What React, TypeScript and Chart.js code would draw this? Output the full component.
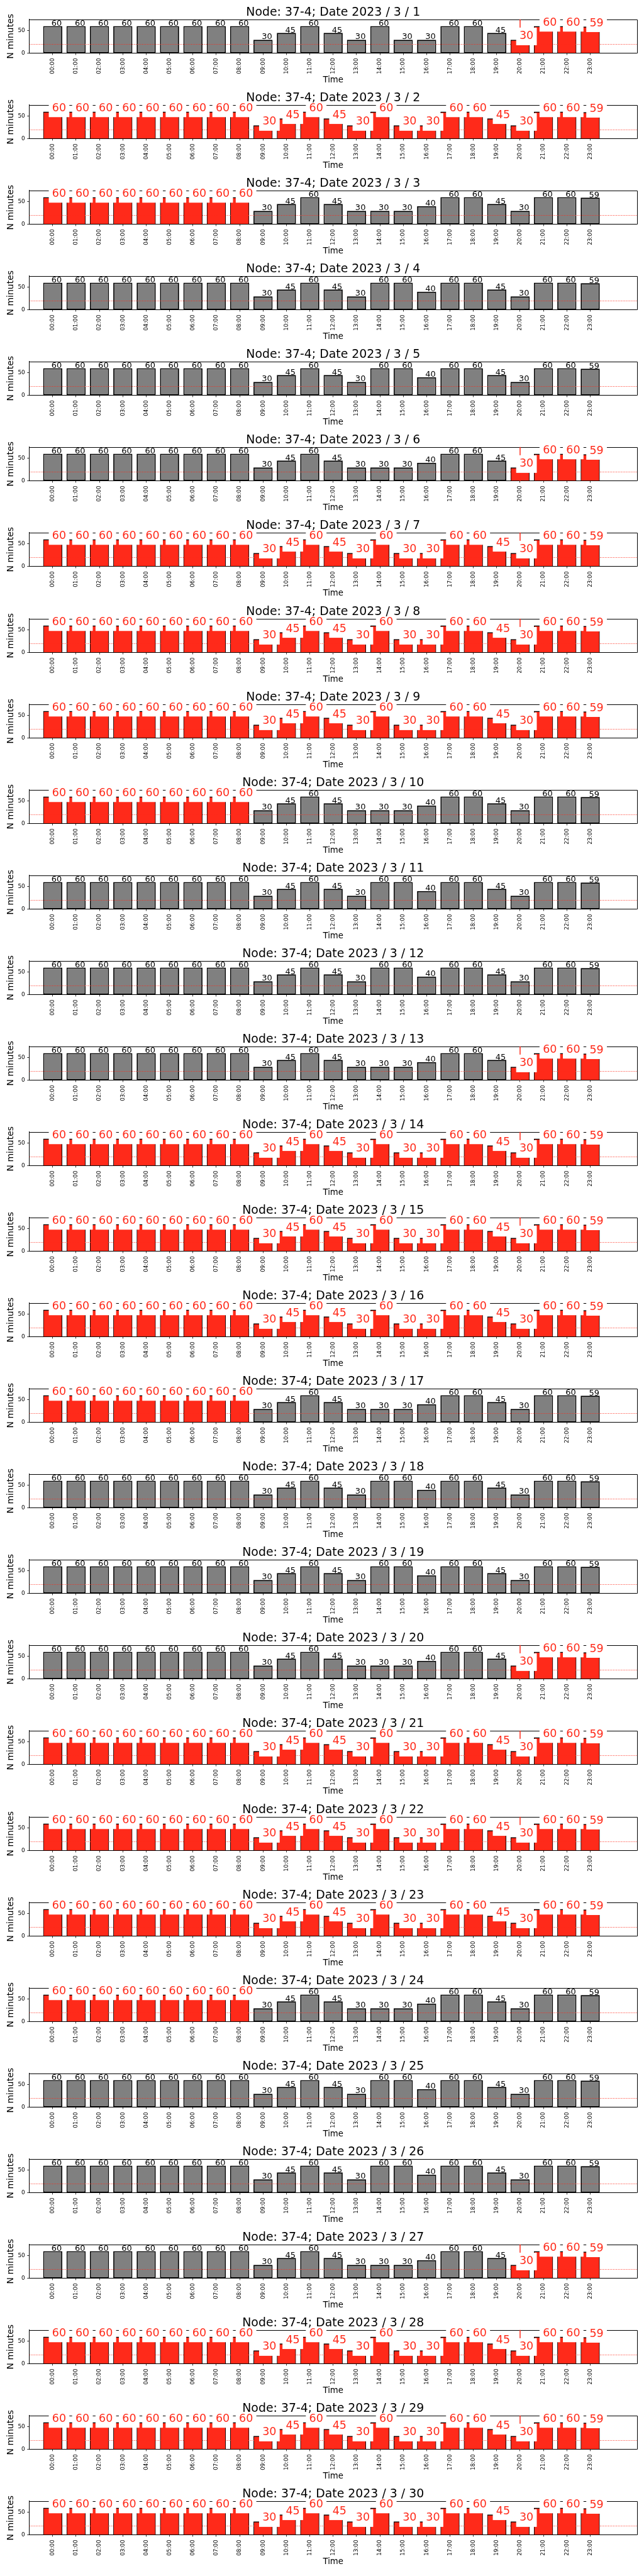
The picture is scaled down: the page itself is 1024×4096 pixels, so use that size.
import React, { useEffect, useRef } from 'react';
import { Chart, registerables } from 'chart.js';

Chart.register(...registerables);
Chart.defaults.font.family = '"DejaVu Sans", sans-serif';
Chart.defaults.color = '#000';

// ---------------- data ----------------
const NODE = '37-4';
const YEAR = 2023;
const MONTH = 3;
const DAYS = [1, 2, 3, 4, 5, 6, 7, 8, 9, 10, 11, 12, 13, 14, 15, 16, 17, 18, 19, 20, 21, 22, 23, 24, 25, 26, 27, 28, 29, 30];

const HOURS = [
  '00:00', '01:00', '02:00', '03:00', '04:00', '05:00', '06:00', '07:00',
  '08:00', '09:00', '10:00', '11:00', '12:00', '13:00', '14:00', '15:00',
  '16:00', '17:00', '18:00', '19:00', '20:00', '21:00', '22:00', '23:00',
];

// minutes per hour – three daily profiles that recur in the figure
const MINUTES_TUE_WED_THU = [60, 60, 60, 60, 60, 60, 60, 60, 60, 30, 45, 60, 45, 30, 60, 30, 30, 60, 60, 45, 30, 60, 60, 59];
const MINUTES_MON_FRI = [60, 60, 60, 60, 60, 60, 60, 60, 60, 30, 45, 60, 45, 30, 30, 30, 40, 60, 60, 45, 30, 60, 60, 59];
const MINUTES_WEEKEND = [60, 60, 60, 60, 60, 60, 60, 60, 60, 30, 45, 60, 45, 30, 60, 60, 40, 60, 60, 45, 30, 60, 60, 59];

// which profile each day (3/1 .. 3/30) shows
const DAY_PROFILE = [
  'A', 'A', 'B', 'C', 'C', 'B', 'A', 'A', 'A', 'B',
  'C', 'C', 'B', 'A', 'A', 'A', 'B', 'C', 'C', 'B',
  'A', 'A', 'A', 'B', 'C', 'C', 'B', 'A', 'A', 'A',
];

// highlighted (red) hour range per day, null = none
const RED_FROM = [20, 0, 0, null, null, 20, 0, 0, 0, 0, null, null, 20, 0, 0, 0, 0, null, null, 20, 0, 0, 0, 0, null, null, 20, 0, 0, 0];
const RED_TO = [23, 23, 8, null, null, 23, 23, 23, 23, 8, null, null, 23, 23, 23, 23, 8, null, null, 23, 23, 23, 23, 8, null, null, 23, 23, 23, 23];

// days that carry the red marker line at 20:00
const MARKER_DAYS = [1, 6, 7, 8, 13, 14, 15, 20, 21, 22, 27, 28, 29];
const MARKER_HOUR = 20;

const THRESHOLD = 20;
const Y_MAX = 75;
const Y_TICKS = [0, 50];

// ---------------- style ----------------
const GRAY = '#808080';
const RED = '#ff2a1a';
const S = 0.682;
const PERIOD = 199.52 * S;
const CANVAS_W = 1023;
const CANVAS_H = 136;
const AX_LEFT = 68.4 * S;
const AX_RIGHT = 1485 * S;
const AX_TOP = 45 * S;
const AX_BOTTOM = 124.3 * S;

const RED_FS = 17.5;
const BLACK_FS = 13;
const TITLE_FS = 18.9;

function profileFor(k: number): number[] {
  const p = DAY_PROFILE[k];
  if (p === 'A') return MINUTES_TUE_WED_THU;
  if (p === 'B') return MINUTES_MON_FRI;
  return MINUTES_WEEKEND;
}

function DayChart({ index }: { index: number }) {
  const ref = useRef<HTMLCanvasElement>(null);

  useEffect(() => {
    const day = DAYS[index];
    const values = profileFor(index);
    const from = RED_FROM[index];
    const to = RED_TO[index];
    const isRed = (i: number) => from !== null && to !== null && i >= from && i <= to;
    const hasMarker = MARKER_DAYS.includes(day);

    const baseData = values.map((v, i) => ({ x: i, y: v }));
    const redData = values.map((v, i) => ({ x: i, y: v })).filter((_, i) => isRed(i));

    const overlay = {
      id: 'overlay',
      beforeDatasetsDraw(chart: any) {
        const { ctx, chartArea } = chart;
        ctx.save();
        ctx.strokeStyle = '#000';
        ctx.lineWidth = 1;
        ctx.beginPath();
        const t = Math.round(chartArea.top) + 0.5;
        const r = Math.round(chartArea.right) + 0.5;
        ctx.moveTo(chartArea.left, t);
        ctx.lineTo(r, t);
        ctx.lineTo(r, chartArea.bottom);
        ctx.stroke();
        ctx.restore();
      },
      afterDatasetsDraw(chart: any) {
        const { ctx, chartArea } = chart;
        const xs = chart.scales.x;
        const ys = chart.scales.y;
        ctx.save();
        // threshold line
        const ty = Math.round(ys.getPixelForValue(THRESHOLD)) + 0.5;
        ctx.strokeStyle = RED;
        ctx.lineWidth = 1;
        ctx.setLineDash([1, 1.6]);
        ctx.beginPath();
        ctx.moveTo(chartArea.left, ty);
        ctx.lineTo(chartArea.right, ty);
        ctx.stroke();
        ctx.setLineDash([]);
        // marker line
        if (hasMarker) {
          const mx = xs.getPixelForValue(MARKER_HOUR);
          ctx.lineWidth = 1.5;
          ctx.beginPath();
          ctx.moveTo(mx, chartArea.top);
          ctx.lineTo(mx, chartArea.bottom);
          ctx.stroke();
        }
        // value labels
        values.forEach((v, i) => {
          const px = xs.getPixelForValue(i);
          const py = ys.getPixelForValue(v);
          const txt = String(v);
          ctx.textAlign = 'left';
          ctx.textBaseline = 'alphabetic';
          if (isRed(i)) {
            ctx.font = `${RED_FS}px "DejaVu Sans"`;
            const ax = px - 1;
            const base = py - 0.7;
            const w = ctx.measureText(txt).width;
            const pad = 0.3 * RED_FS;
            ctx.fillStyle = '#fff';
            ctx.fillRect(ax - pad, base - 0.76 * RED_FS - pad, w + 2 * pad, RED_FS + 2 * pad);
            ctx.fillStyle = RED;
            ctx.fillText(txt, ax, base);
          } else {
            ctx.font = `${BLACK_FS}px "DejaVu Sans"`;
            ctx.fillStyle = '#000';
            ctx.fillText(txt, px - 2, py - 0.7);
          }
        });
        ctx.restore();
      },
      afterDraw(chart: any) {
        const { ctx, chartArea } = chart;
        ctx.save();
        ctx.font = `${TITLE_FS}px "DejaVu Sans"`;
        ctx.fillStyle = '#000';
        ctx.textAlign = 'center';
        ctx.textBaseline = 'alphabetic';
        ctx.fillText(`Node: ${NODE}; Date ${YEAR} / ${MONTH} / ${day}`, (chartArea.left + chartArea.right) / 2, 36 * S);
        ctx.restore();
      },
    };

    const chart = new Chart(ref.current as HTMLCanvasElement, {
      type: 'bar',
      data: {
        datasets: [
          {
            data: redData,
            backgroundColor: RED,
            borderColor: 'rgba(0,0,0,0)',
            borderWidth: { left: 1, right: 1, top: 1.5, bottom: 0 },
            borderSkipped: 'start',
            grouped: false,
            barPercentage: 0.818,
            categoryPercentage: 1,
            order: 0,
          } as any,
          {
            data: baseData,
            backgroundColor: GRAY,
            borderColor: '#000',
            borderWidth: 1.8,
            borderSkipped: false,
            grouped: false,
            barPercentage: 0.818,
            categoryPercentage: 1,
            order: 1,
          } as any,
        ],
      },
      options: {
        responsive: false,
        maintainAspectRatio: false,
        animation: false,
        events: [],
        layout: { padding: { left: 0, right: CANVAS_W - AX_RIGHT, top: AX_TOP, bottom: 0 } },
        plugins: { legend: { display: false }, tooltip: { enabled: false }, title: { display: false } },
        scales: {
          x: {
            type: 'linear',
            min: -1,
            max: 25,
            offset: false,
            afterBuildTicks: (s: any) => {
              s.ticks = HOURS.map((_, i) => ({ value: i }));
            },
            afterFit: (s: any) => {
              s.height = CANVAS_H - AX_BOTTOM;
            },
            ticks: {
              autoSkip: false,
              minRotation: 90,
              maxRotation: 90,
              padding: 5,
              color: '#000',
              font: { size: 8.8 },
              callback: (v: any) => HOURS[Number(v)] ?? '',
            },
            grid: { display: true, offset: false, drawOnChartArea: false, drawTicks: true, tickLength: 2.7, color: '#000', lineWidth: 0.8 },
            border: { display: true, color: '#000', width: 1 },
            title: { display: true, text: 'Time', color: '#000', font: { size: 13.3 }, padding: { top: 0, bottom: 0 } },
          },
          y: {
            min: 0,
            max: Y_MAX,
            afterBuildTicks: (s: any) => {
              s.ticks = Y_TICKS.map((v) => ({ value: v }));
            },
            afterFit: (s: any) => {
              s.width = AX_LEFT;
            },
            ticks: { padding: 3.4, color: '#000', font: { size: 9 } },
            grid: { display: true, drawOnChartArea: false, drawTicks: true, tickLength: 3.4, color: '#000', lineWidth: 0.8 },
            border: { display: true, color: '#000', width: 1 },
            title: { display: true, text: 'N minutes', color: '#000', font: { size: 14 }, padding: { top: 9, bottom: 0 } },
          },
        },
      } as any,
      plugins: [overlay],
    });
    return () => chart.destroy();
  }, [index]);

  return (
    <canvas
      ref={ref}
      width={CANVAS_W}
      height={CANVAS_H}
      style={{ position: 'absolute', left: 0, top: Math.round(index * PERIOD), width: CANVAS_W, height: CANVAS_H }}
    />
  );
}

export default function App() {
  useEffect(() => {
    document.body.style.margin = '0';
    document.body.style.background = '#fff';
  }, []);
  return (
    <div style={{ position: 'absolute', left: 0, top: 0, width: CANVAS_W, height: Math.round(30 * PERIOD), background: '#fff' }}>
      {DAYS.map((d, k) => (
        <DayChart key={d} index={k} />
      ))}
    </div>
  );
}
